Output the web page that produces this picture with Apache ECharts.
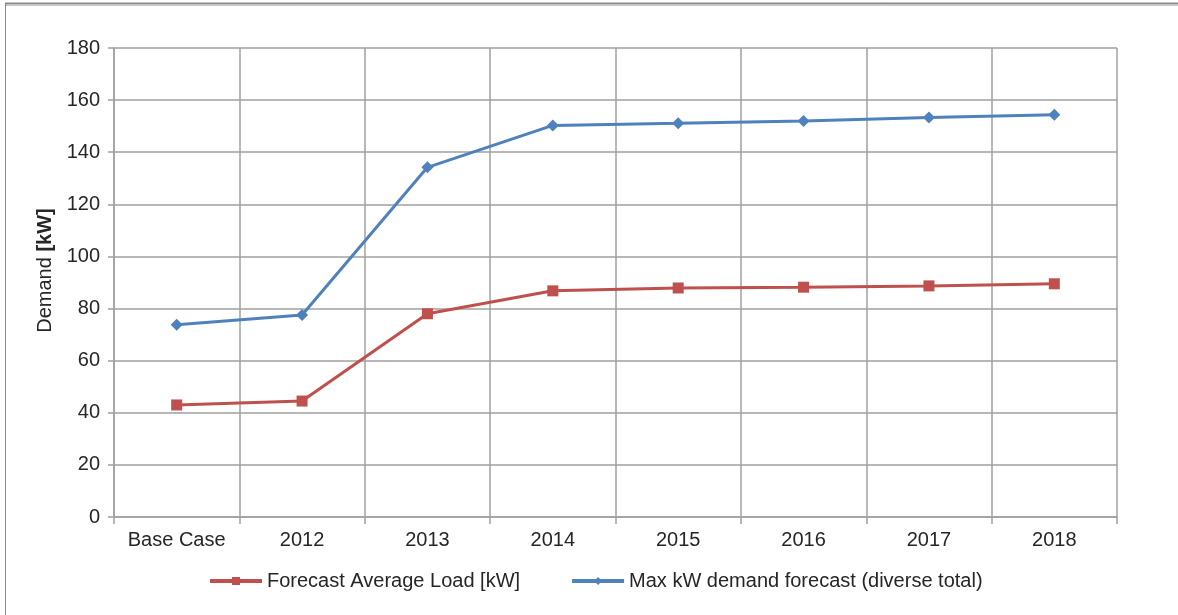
<!DOCTYPE html>
<html>
<head>
<meta charset="utf-8">
<script src="https://cdn.jsdelivr.net/npm/echarts@6/dist/echarts.min.js"></script>
<style>
  html, body { margin: 0; padding: 0; background: #fff; }
  #chart { width: 1178px; height: 615px; }
</style>
</head>
<body>
<div id="chart"></div>
<script>
const categories = ['Base Case', '2012', '2013', '2014', '2015', '2016', '2017', '2018']
const avgLoad = [43, 44.5, 78, 86.8, 87.9, 88.2, 88.7, 89.5]
const maxDemand = [73.8, 77.5, 134.2, 150.3, 151.1, 152, 153.3, 154.4]
const yTicks = [0, 20, 40, 60, 80, 100, 120, 140, 160, 180]

const font = 'Liberation Sans, Arial, sans-serif'
const gridColor = '#a0a0a0'
const textColor = '#262626'

const chart = echarts.init(document.getElementById('chart'))

chart.setOption({
  animation: false,
  textStyle: { fontFamily: font },
  grid: { left: 114, right: 61, top: 48, bottom: 98 },
  legend: {
    bottom: 19,
    left: 203,
    itemWidth: 52,
    itemHeight: 10,
    itemGap: 50,
    lineStyle: { width: 4 },
    textStyle: { fontSize: 20, color: textColor, fontFamily: font },
    data: ['Forecast Average Load [kW]', 'Max kW demand forecast (diverse total)']
  },
  xAxis: {
    type: 'category',
    data: categories,
    boundaryGap: true,
    axisLine: { lineStyle: { color: gridColor, width: 1.5 } },
    axisTick: { show: true, length: 7, interval: 0, lineStyle: { color: gridColor, width: 1.5 } },
    splitLine: { show: true, interval: 0, lineStyle: { color: gridColor, width: 1.5 } },
    axisLabel: { fontSize: 20, color: textColor, margin: 13, interval: 0 }
  },
  yAxis: {
    type: 'value',
    min: yTicks[0],
    max: yTicks[yTicks.length - 1],
    interval: 20,
    name: '{n|Demand }{b|[kW]}',
    nameLocation: 'middle',
    nameGap: 58,
    nameRotate: 90,
    nameTextStyle: {
      padding: [0, 0, 0, 24],
      rich: {
        n: { fontSize: 20, color: textColor, fontFamily: font },
        b: { fontSize: 20, color: textColor, fontWeight: 'bold', fontFamily: font }
      }
    },
    axisLine: { show: true, lineStyle: { color: gridColor, width: 1.5 } },
    axisTick: { show: true, length: 6, lineStyle: { color: gridColor, width: 1.5 } },
    splitLine: { show: true, lineStyle: { color: gridColor, width: 1.5 } },
    axisLabel: { fontSize: 20, color: textColor, margin: 14 }
  },
  series: [
    {
      name: 'Forecast Average Load [kW]',
      type: 'line',
      data: avgLoad,
      symbol: 'rect',
      symbolSize: 11,
      color: '#c0504d',
      lineStyle: { width: 3, color: '#c0504d' },
      itemStyle: { color: '#c0504d' }
    },
    {
      name: 'Max kW demand forecast (diverse total)',
      type: 'line',
      data: maxDemand,
      symbol: 'diamond',
      symbolSize: 12,
      color: '#4f81bd',
      lineStyle: { width: 3, color: '#4f81bd' },
      itemStyle: { color: '#4f81bd' }
    }
  ],
  graphic: [
    { type: 'line', shape: { x1: 5, y1: 3.5, x2: 1178, y2: 3.5 }, style: { stroke: '#8a8a8a', lineWidth: 2 } },
    { type: 'line', shape: { x1: 5, y1: 5.5, x2: 1178, y2: 5.5 }, style: { stroke: '#c8c8c8', lineWidth: 1 } },
    { type: 'line', shape: { x1: 5.5, y1: 3, x2: 5.5, y2: 615 }, style: { stroke: '#8a8a8a', lineWidth: 1 } }
  ]
})
</script>
</body>
</html>
